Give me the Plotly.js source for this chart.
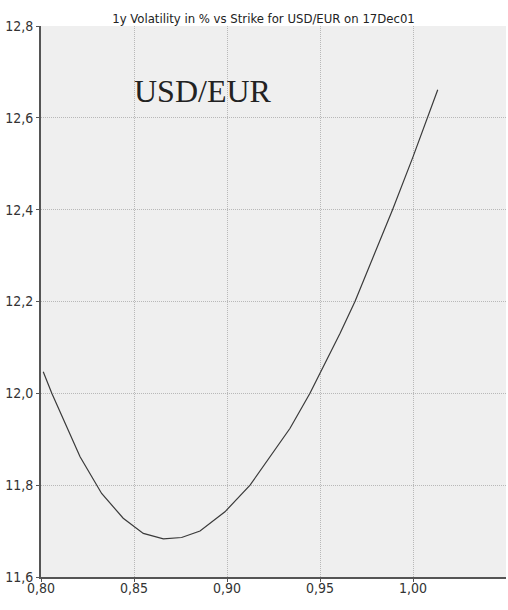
<!DOCTYPE html>
<html>
<head>
<meta charset="utf-8">
<script src="https://cdn.plot.ly/plotly-3.0.1.min.js"></script>
<style>
  html, body { margin: 0; padding: 0; background: #ffffff; }
  #chart { width: 508px; height: 610px; }
</style>
</head>
<body>
<div id="chart"></div>
<script>
// Strike values (x) and 1y volatility in % (y)
var strikes = [0.8012, 0.8058, 0.8210, 0.8299, 0.8326, 0.8442, 0.8550, 0.8658, 0.8756, 0.8855,
               0.8989, 0.9124, 0.9285, 0.9339, 0.9446, 0.9608, 0.9688, 0.9787, 0.9890, 1.0000,
               1.0077, 1.0133];
var volatility = [12.047, 12.000, 11.862, 11.800, 11.782, 11.728, 11.695, 11.683, 11.686, 11.700,
                  11.742, 11.800, 11.895, 11.924, 12.000, 12.131, 12.200, 12.298, 12.400, 12.515,
                  12.599, 12.661];
var xTicks = [0.80, 0.85, 0.90, 0.95, 1.00];
var xTickLabels = ["0,80", "0,85", "0,90", "0,95", "1,00"];
var yTicks = [11.6, 11.8, 12.0, 12.2, 12.4, 12.6, 12.8];
var yTickLabels = ["11,6", "11,8", "12,0", "12,2", "12,4", "12,6", "12,8"];
var chartTitle = "1y Volatility in % vs Strike for USD/EUR on 17Dec01";
var pairLabel = "USD/EUR";

var narrow = "Liberation Sans Narrow, DejaVu Sans Condensed, sans-serif";

var trace = {
  x: strikes,
  y: volatility,
  type: "scatter",
  mode: "lines",
  line: { color: "#3a3a3a", width: 1.2 },
  hoverinfo: "none"
};

var layout = {
  width: 508,
  height: 610,
  margin: { l: 41, r: 2, t: 26, b: 33, pad: 0 },
  paper_bgcolor: "#ffffff",
  plot_bgcolor: "#efefef",
  showlegend: false,
  title: {
    text: chartTitle,
    font: { family: narrow, size: 13, color: "#222222" },
    x: 0.4785, xref: "paper", xanchor: "center",
    y: 0.9705, yref: "container", yanchor: "middle"
  },
  xaxis: {
    range: [0.80, 1.05],
    tickvals: xTicks,
    ticktext: xTickLabels,
    ticks: "outside",
    ticklen: 3,
    tickcolor: "#555555",
    ticklabelstandoff: -6,
    tickfont: { family: narrow, size: 14, color: "#333333" },
    showgrid: true,
    gridcolor: "#b8b8b8",
    griddash: "1px,1px",
    gridwidth: 1,
    showline: true,
    linecolor: "#555555",
    linewidth: 2,
    zeroline: false,
    fixedrange: true
  },
  yaxis: {
    range: [11.6, 12.8],
    tickvals: yTicks,
    ticktext: yTickLabels,
    ticks: "outside",
    ticklen: 3,
    tickcolor: "#555555",
    tickfont: { family: narrow, size: 14, color: "#333333" },
    showgrid: true,
    gridcolor: "#b8b8b8",
    griddash: "1px,1px",
    gridwidth: 1,
    showline: true,
    linecolor: "#555555",
    linewidth: 2,
    zeroline: false,
    fixedrange: true
  },
  annotations: [{
    text: pairLabel,
    xref: "x", yref: "y",
    x: 0.8489, y: 12.658,
    xanchor: "left", yanchor: "middle",
    showarrow: false,
    font: { family: "Liberation Serif, Times New Roman, serif", size: 32, color: "#222222" }
  }]
};

Plotly.newPlot("chart", [trace], layout, { displayModeBar: false, staticPlot: true });
</script>
</body>
</html>
